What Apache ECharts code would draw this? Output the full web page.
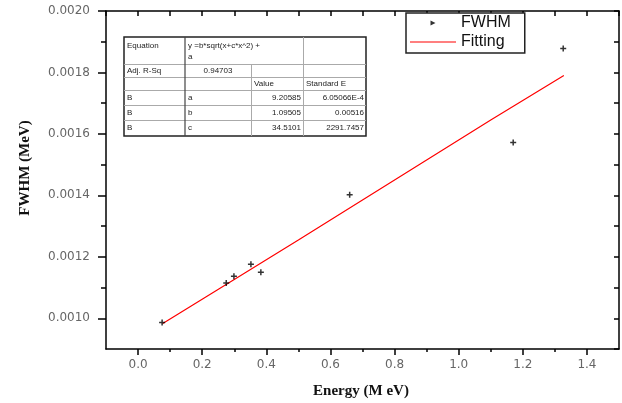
<!DOCTYPE html>
<html>
<head>
<meta charset="utf-8">
<script src="https://cdn.jsdelivr.net/npm/echarts@6/dist/echarts.min.js"></script>
<style>html,body{margin:0;padding:0;background:#fff}#c{width:622px;height:403px}</style>
</head>
<body>
<div id="c"></div>
<script>
// ---- data ----
const energy = [0.075, 0.275, 0.299, 0.352, 0.383, 0.660, 1.170, 1.326];
const fwhm   = [0.000986, 0.001115, 0.001137, 0.001176, 0.00115, 0.001402, 0.001572, 0.001878];
const fitX = [0.077, 0.3, 0.5, 0.7, 0.9, 1.1, 1.328];
const fitY = [0.000983, 0.001126, 0.001255, 0.001385, 0.001515, 0.001645, 0.001790];
const xMajor = [0.0, 0.2, 0.4, 0.6, 0.8, 1.0, 1.2, 1.4];
const xMinor = [0.1, 0.3, 0.5, 0.7, 0.9, 1.1, 1.3];
const yMajor = [0.0010, 0.0012, 0.0014, 0.0016, 0.0018, 0.0020];
const yMinor = [0.0011, 0.0013, 0.0015, 0.0017, 0.0019];
const tableRows = [
  ['Equation', 'y =b*sqrt(x+c*x^2) +\na', '', ''],
  ['Adj. R-Sq', '0.94703', '', ''],
  ['', '', 'Value', 'Standard E'],
  ['B', 'a', '9.20585', '6.05066E-4'],
  ['B', 'b', '1.09505', '0.00516'],
  ['B', 'c', '34.5101', '2291.7457']
];

const chart = echarts.init(document.getElementById('c'));
const lblFont = {fontFamily: 'DejaVu Sans', fontSize: 12, color: '#666'};
const blk = {color: '#000', width: 1.5};

// table graphic
const colX = [124, 185, 251, 303, 366];
const rowY = [37, 64, 77, 90, 105, 120, 136];
const tg = [];
tg.push({type: 'rect', shape: {x: colX[0], y: rowY[0], width: colX[4]-colX[0], height: rowY[6]-rowY[0]},
  style: {fill: '#fff', stroke: '#222', lineWidth: 1.5}, z: 10});
for (let i = 1; i < 6; i++) {
  tg.push({type: 'line', shape: {x1: colX[0], y1: rowY[i]+0.5, x2: colX[4], y2: rowY[i]+0.5},
    style: {stroke: '#aaa', lineWidth: 1}, z: 11});
}
tg.push({type: 'line', shape: {x1: colX[1], y1: rowY[0], x2: colX[1], y2: rowY[6]}, style: {stroke: '#444', lineWidth: 1.2}, z: 11});
tg.push({type: 'line', shape: {x1: colX[2]+0.5, y1: rowY[1], x2: colX[2]+0.5, y2: rowY[6]}, style: {stroke: '#aaa', lineWidth: 1}, z: 11});
tg.push({type: 'line', shape: {x1: colX[3]+0.5, y1: rowY[0], x2: colX[3]+0.5, y2: rowY[6]}, style: {stroke: '#aaa', lineWidth: 1}, z: 11});
const tFont = {fontFamily: 'Liberation Sans', fontSize: 8, fill: '#222'};
tableRows.forEach((row, r) => {
  row.forEach((txt, c) => {
    if (!txt) return;
    let x, align = 'left';
    if (r === 1 && c === 1) { x = (colX[1]+colX[2])/2; align = 'center'; }
    else if (r >= 3 && (c === 2 || c === 3)) { x = colX[c+1] - 2; align = 'right'; }
    else x = colX[c] + 3;
    const y = r === 0 ? rowY[0] + 3 : rowY[r] + 2;
    tg.push({type: 'text', x: x, y: r === 0 ? y : (rowY[r] + rowY[r+1]) / 2, z: 12,
      style: Object.assign({text: txt, align: align, verticalAlign: r === 0 ? 'top' : 'middle', lineHeight: 11}, tFont)});
  });
});
// axis titles
tg.push({type: 'text', x: 25, y: 168, rotation: Math.PI/2, z: 5,
  style: {text: 'FWHM (MeV)', align: 'center', verticalAlign: 'middle', fontFamily: 'Liberation Serif', fontWeight: 'bold', fontSize: 15, fill: '#111'}});
tg.push({type: 'text', x: 361, y: 391, z: 5,
  style: {text: 'Energy (M eV)', align: 'center', verticalAlign: 'middle', fontFamily: 'Liberation Serif', fontWeight: 'bold', fontSize: 15, fill: '#111'}});

const xBase = {type: 'value', min: -0.1, max: 1.5, gridIndex: 0, splitLine: {show: false}};
const yBase = {type: 'value', min: 0.0009, max: 0.0020, gridIndex: 0, splitLine: {show: false}};

chart.setOption({
  animation: false,
  backgroundColor: '#fff',
  grid: {left: 106, right: 3, top: 11, bottom: 54},
  legend: {
    left: 406, top: 13, orient: 'vertical',
    borderColor: '#222', borderWidth: 1.5, backgroundColor: '#fff',
    padding: [2, 14, 3, 4], itemWidth: 46, itemHeight: 5, itemGap: 3,
    textStyle: {fontFamily: 'Liberation Sans', fontSize: 16, color: '#111'},
    data: [
      {name: 'FWHM', icon: 'path://M0,0L4,2L0,4Z', itemStyle: {color: '#000'}},
      {name: 'Fitting', icon: 'path://M0,0H46V1.2H0Z', itemStyle: {color: '#ff0000'}}
    ]
  },
  xAxis: [
    Object.assign({}, xBase, {position: 'bottom',
      axisLine: {onZero: false, lineStyle: blk},
      axisTick: {inside: false, length: 6, customValues: xMajor, lineStyle: blk},
      axisLabel: Object.assign({customValues: xMajor, margin: 10, formatter: v => v.toFixed(1)}, lblFont)}),
    Object.assign({}, xBase, {position: 'bottom', offset: 0,
      axisLine: {show: false, onZero: false},
      axisTick: {inside: false, length: 3, customValues: xMinor, lineStyle: blk},
      axisLabel: {show: false}}),
    Object.assign({}, xBase, {position: 'top', interval: 0.1,
      axisLine: {onZero: false, lineStyle: blk},
      axisTick: {inside: true, length: 5, lineStyle: blk},
      axisLabel: {show: false}})
  ],
  yAxis: [
    Object.assign({}, yBase, {position: 'left',
      axisLine: {show: true, onZero: false, lineStyle: blk},
      axisTick: {show: true, inside: false, length: 8, customValues: yMajor, lineStyle: blk},
      axisLabel: Object.assign({customValues: yMajor, margin: 16, formatter: v => v.toFixed(4)}, lblFont)}),
    Object.assign({}, yBase, {position: 'left', offset: 0,
      axisLine: {show: false, onZero: false},
      axisTick: {show: true, inside: false, length: 5, customValues: yMinor, lineStyle: blk},
      axisLabel: {show: false}}),
    Object.assign({}, yBase, {position: 'right', interval: 0.0001,
      axisLine: {show: true, onZero: false, lineStyle: blk},
      axisTick: {show: true, inside: true, length: 5, lineStyle: blk},
      axisLabel: {show: false}})
  ],
  series: [
    {name: 'FWHM', type: 'scatter', xAxisIndex: 0, yAxisIndex: 0,
      symbol: 'path://M3,0H5V3H8V5H5V8H3V5H0V3H3Z', symbolSize: 6,
      itemStyle: {color: '#000'},
      data: energy.map((x, i) => [x, fwhm[i]]), z: 4},
    {name: 'Fitting', type: 'line', xAxisIndex: 0, yAxisIndex: 0,
      showSymbol: false, symbol: 'none', lineStyle: {color: '#ff0000', width: 1.2},
      itemStyle: {color: '#ff0000'},
      data: fitX.map((x, i) => [x, fitY[i]]), z: 3}
  ],
  graphic: tg
});
</script>
</body>
</html>
